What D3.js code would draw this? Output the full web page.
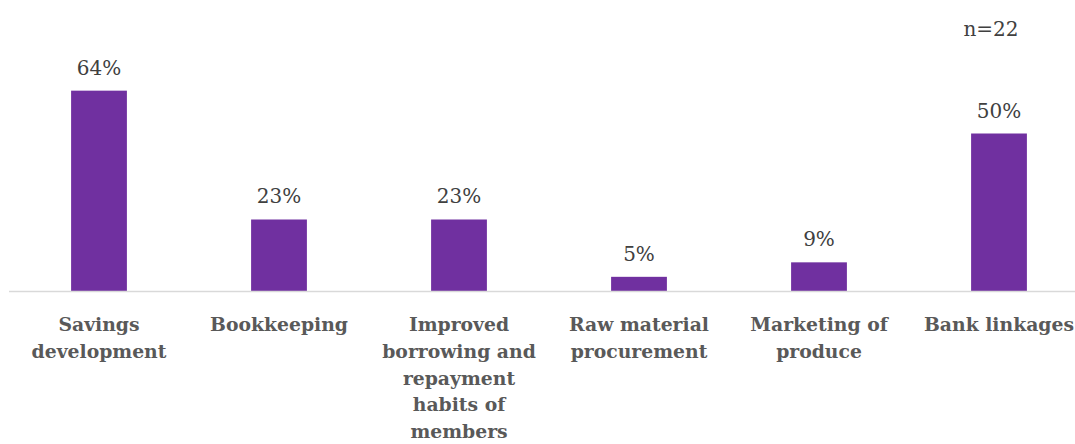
<!DOCTYPE html>
<html>
<head>
<meta charset="utf-8">
<script src="https://cdn.jsdelivr.net/npm/d3@7"></script>
<style>
  body { margin: 0; background: #fff; }
  svg { display: block; }
  .val { font-family: "DejaVu Serif", serif; font-size: 20px; fill: #404040; }
  .cat { font-family: "DejaVu Serif", serif; font-size: 18.8px; font-weight: bold; fill: #595959; }
</style>
</head>
<body>
<div id="chart"></div>
<script>
// categories (line breaks as in the original)
var categories = [
  ["Savings", "development"],
  ["Bookkeeping"],
  ["Improved", "borrowing and", "repayment", "habits of", "members"],
  ["Raw material", "procurement"],
  ["Marketing of", "produce"],
  ["Bank linkages"]
];
// share of respondents, % (n=22)
var values = [63.6, 22.7, 22.7, 4.5, 9.1, 50.0];
var valueLabels = ["64%", "23%", "23%", "5%", "9%", "50%"];
var note = "n=22";

var totalWidth = 1075, totalHeight = 444;
var baseY = 291;

var svg = d3.select("#chart").append("svg")
    .attr("width", totalWidth)
    .attr("height", totalHeight);

var xScale = d3.scaleBand()
    .domain(d3.range(categories.length))
    .range([9, 1089])
    .paddingInner(0.69)
    .paddingOuter(0.345);

var yScale = d3.scaleLinear()
    .domain([0, 70])
    .range([baseY, baseY - 220.5]);

// bars
svg.selectAll(".bar")
    .data(values)
  .enter().append("rect")
    .attr("class", "bar")
    .attr("x", function(d, i) { return xScale(i); })
    .attr("width", xScale.bandwidth())
    .attr("y", function(d) { return yScale(d); })
    .attr("height", function(d) { return yScale(0) - yScale(d); })
    .attr("fill", "#7030a0");

// baseline
svg.append("line")
    .attr("x1", 9).attr("x2", totalWidth)
    .attr("y1", baseY + 0.5).attr("y2", baseY + 0.5)
    .attr("stroke", "#d9d9d9")
    .attr("stroke-width", 1.5);

// value labels
svg.selectAll(".val")
    .data(values)
  .enter().append("text")
    .attr("class", "val")
    .attr("text-anchor", "middle")
    .attr("x", function(d, i) { return xScale(i) + xScale.bandwidth() / 2; })
    .attr("y", function(d) { return yScale(d) - 16; })
    .text(function(d, i) { return valueLabels[i]; });

// category labels
var cats = svg.selectAll(".cat")
    .data(categories)
  .enter().append("text")
    .attr("class", "cat")
    .attr("text-anchor", "middle")
    .attr("x", function(d, i) { return xScale(i) + xScale.bandwidth() / 2; })
    .attr("y", 331);

cats.selectAll("tspan")
    .data(function(d) { return d; })
  .enter().append("tspan")
    .attr("x", function() { return d3.select(this.parentNode).attr("x"); })
    .attr("dy", function(d, i) { return i === 0 ? 0 : 26.8; })
    .text(function(d) { return d; });

// sample size note
svg.append("text")
    .attr("class", "val")
    .attr("x", 991)
    .attr("y", 36)
    .attr("text-anchor", "middle")
    .text(note);
</script>
</body>
</html>
